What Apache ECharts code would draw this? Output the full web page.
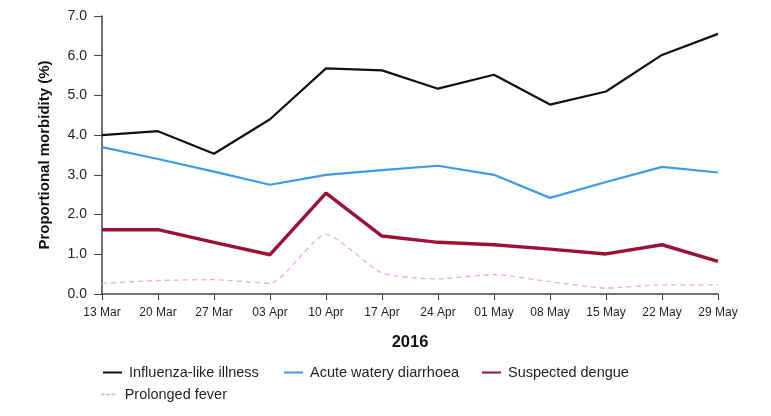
<!DOCTYPE html>
<html><head><meta charset="utf-8">
<script src="https://cdn.jsdelivr.net/npm/echarts@6/dist/echarts.min.js"></script>
<style>html,body{margin:0;padding:0;background:#fff}#c{width:771px;height:416px}</style>
</head><body><div id="c"></div>
<script>
const categories = ['13 Mar','20 Mar','27 Mar','03 Apr','10 Apr','17 Apr','24 Apr','01 May','08 May','15 May','22 May','29 May'];
const influenza = [4.0, 4.1, 3.53, 4.4, 5.68, 5.63, 5.17, 5.52, 4.77, 5.1, 6.02, 6.55];
const diarrhoea = [3.7, 3.4, 3.08, 2.75, 3.0, 3.12, 3.23, 3.0, 2.42, 2.82, 3.2, 3.06];
const dengue = [1.62, 1.62, 1.3, 0.99, 2.54, 1.46, 1.3, 1.24, 1.13, 1.01, 1.24, 0.82];
const fever = [0.27, 0.34, 0.36, 0.27, 1.5, 0.53, 0.38, 0.49, 0.31, 0.15, 0.23, 0.23];
const yTicks = [0, 1, 2, 3, 4, 5, 6, 7];

const FONT = '"Liberation Sans", Arial, sans-serif';
const chart = echarts.init(document.getElementById('c'));
const mkLegend = (name, left, top, icon, h) => ({
  data: [name], left: left, top: top, padding: 0, itemWidth: 19, itemHeight: h, itemGap: 0,
  icon: icon,
  textStyle: {fontFamily: FONT, fontSize: 14.5, color: '#231f20', padding: [0, 0, 0, 2]}
});
const LINE = 'path://M0,0H19V2H0Z';
const DASH = 'path://M0,0H5V2H0Z M7,0H12V2H7Z M14,0H19V2H14Z';
chart.setOption({
  animation: false,
  grid: {left: 102, right: 771 - 718, top: 16, bottom: 416 - 294, containLabel: false},
  xAxis: {
    type: 'category', data: categories, boundaryGap: false,
    name: '2016', nameLocation: 'middle', nameGap: 40,
    nameTextStyle: {fontFamily: FONT, fontSize: 16.5, fontWeight: 'bold', color: '#111'},
    axisLine: {lineStyle: {color: '#444', width: 1.5}},
    axisTick: {alignWithLabel: true, length: 6, lineStyle: {color: '#444'}},
    axisLabel: {fontFamily: FONT, fontSize: 12, color: '#231f20', margin: 13, interval: 0}
  },
  yAxis: {
    type: 'value', min: yTicks[0], max: yTicks[yTicks.length - 1], interval: 1,
    name: 'Proportional morbidity (%)', nameLocation: 'middle', nameGap: 50,
    nameTextStyle: {fontFamily: FONT, fontSize: 15, fontWeight: 'bold', color: '#111'},
    axisLine: {show: true, lineStyle: {color: '#444', width: 1.5}},
    axisTick: {show: true, length: 8, lineStyle: {color: '#444'}},
    splitLine: {show: false},
    axisLabel: {fontFamily: FONT, fontSize: 14, color: '#231f20', margin: 15, formatter: v => v.toFixed(1)}
  },
  legend: [
    mkLegend('Influenza-like illness', 103, 365, LINE, 2),
    mkLegend('Acute watery diarrhoea', 284, 365, LINE, 2),
    mkLegend('Suspected dengue', 482, 365, LINE, 4),
    mkLegend('Prolonged fever', 101, 387, DASH, 1.5)
  ],
  series: [
    {name: 'Influenza-like illness', type: 'line', data: influenza, symbol: 'none',
     lineStyle: {color: '#111', width: 2.2}, itemStyle: {color: '#111'}},
    {name: 'Acute watery diarrhoea', type: 'line', data: diarrhoea, symbol: 'none',
     lineStyle: {color: '#3d9be9', width: 2.2}, itemStyle: {color: '#3d9be9'}},
    {name: 'Suspected dengue', type: 'line', data: dengue, symbol: 'none',
     lineStyle: {color: '#9b1239', width: 3.5}, itemStyle: {color: '#9b1239'}},
    {name: 'Prolonged fever', type: 'line', data: fever, symbol: 'none', smooth: 0.2,
     lineStyle: {color: '#eea8e6', width: 1.3, type: [5, 4]}, itemStyle: {color: '#eea8e6'}}
  ]
});
</script></body></html>
